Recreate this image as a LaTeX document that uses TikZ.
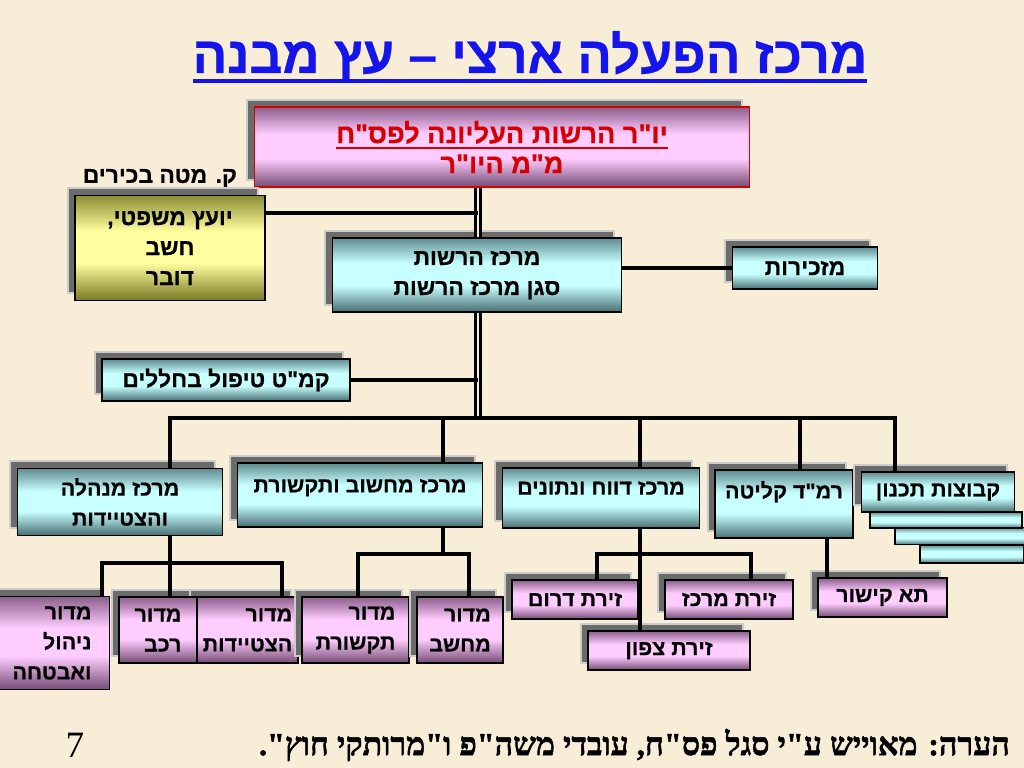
\documentclass[tikz,border=0pt]{standalone}
\usepackage{fontspec}
\usetikzlibrary{shadows}
\TeXXeTstate=1
\newfontfamily\hebsans[Script=Hebrew, BoldFont={Liberation Sans Bold}, BoldFeatures={FakeBold=0.6}]{Liberation Sans}
\newfontfamily\hebserif[Script=Hebrew, BoldFont={Liberation Serif Bold}, BoldFeatures={FakeBold=1.5}]{Liberation Serif}

\definecolor{bgcream}{RGB}{248,238,216}
\definecolor{titleblue}{RGB}{20,20,235}
\definecolor{chairred}{RGB}{215,0,0}
\definecolor{cyantop}{RGB}{95,140,145}
\definecolor{cyanlt}{RGB}{200,255,255}
\definecolor{cyandk}{RGB}{70,110,115}
\definecolor{pinktop}{RGB}{140,95,140}
\definecolor{pinklt}{RGB}{255,205,255}
\definecolor{pinkdk}{RGB}{115,75,115}
\definecolor{yeltop}{RGB}{140,140,50}
\definecolor{yellt}{RGB}{255,255,160}
\definecolor{yeldk}{RGB}{120,120,35}

\pgfdeclareverticalshading{cyanbar}{100bp}{color(0bp)=(cyandk); color(25bp)=(cyandk); color(43bp)=(cyanlt); color(58bp)=(cyanlt); color(75bp)=(cyantop); color(100bp)=(cyantop)}
\pgfdeclareverticalshading{pinkbar}{100bp}{color(0bp)=(pinkdk); color(25bp)=(pinkdk); color(43bp)=(pinklt); color(58bp)=(pinklt); color(75bp)=(pinktop); color(100bp)=(pinktop)}
\pgfdeclareverticalshading{yelbar}{100bp}{color(0bp)=(yeldk); color(25bp)=(yeldk); color(43bp)=(yellt); color(58bp)=(yellt); color(75bp)=(yeltop); color(100bp)=(yeltop)}

\newcommand\heb[1]{\beginR #1\endR}
\newcommand\ulined[3]{\setbox0=\hbox{#3}\leavevmode\rlap{\rule[-#2]{\wd0}{#1}}\box0}
\newcommand\titlefont{\hebsans\bfseries\fontsize{36}{40}\selectfont}
\newcommand\boxfont{\hebsans\bfseries\fontsize{16}{21}\selectfont}
\newcommand\rowfont{\hebsans\bfseries\fontsize{15}{21}\selectfont}
\newcommand\notefont{\hebserif\bfseries\fontsize{22.5}{26}\selectfont}
\newcommand\pagefont{\hebserif\fontsize{26}{30}\selectfont}

\tikzset{
  sz/.style 2 args={minimum width=#1*0.7pt, minimum height=#2*0.7pt},
  shad/.style={general shadow={fill=black!58, draw=black!20, line width=1.5pt, shadow xshift=-5pt, shadow yshift=5pt}},
  box/.style={shad, draw=black, line width=0.9pt, shade, inner sep=2pt, align=center, font=\boxfont},
  cyanbox/.style={box, shading=cyanbar},
  pinkbox/.style={box, shading=pinkbar},
  yelbox/.style={box, shading=yelbar},
  rowbox/.style={cyanbox, font=\rowfont},
  subbox/.style={pinkbox, font=\rowfont},
  stackbox/.style={draw=black, line width=0.9pt, shade, shading=cyanbar},
  lift/.style={text depth=#1},
  conn/.style={line width=2.7pt},
  trunkline/.style={line width=2.2pt, double=bgcream, double distance=0.8pt}
}

\begin{document}
\begin{tikzpicture}[x=0.7pt, y=-0.7pt]
\fill[bgcream] (0,0) rectangle (1024,768);
\useasboundingbox (0,0) rectangle (1024,768);

\node[font=\titlefont, text=titleblue] (title) at (530,57) {\ulined{2.8pt}{7pt}{\heb{מרכז הפעלה ארצי – עץ מבנה}}};

\node[pinkbox, draw=chairred, text=chairred, font=\hebsans\bfseries\fontsize{19}{21}\selectfont, sz={495}{80}] (chair) at (502,147) {\ulined{1.4pt}{4pt}{\heb{יו"ר הרשות העליונה לפס"ח}}\\\heb{מ"מ היו"ר}};
\node[font=\boxfont, anchor=east] (staff) at (242,178) {\heb{ק. מטה בכירים}};
\node[yelbox, sz={190}{105}] (legal) at (170,248) {\heb{יועץ משפטי,}\\\heb{חשב}\\\heb{דובר}};
\node[cyanbox, sz={289}{74}] (hq) at (477,275) {\heb{מרכז הרשות}\\\heb{סגן מרכז הרשות}};
\node[cyanbox, sz={145}{42}] (secr) at (805,268) {\heb{מזכירות}};
\node[cyanbox, sz={248}{42}] (fallen) at (226,380) {\heb{קמ"ט טיפול בחללים}};

\node[rowbox, sz={205}{67}] (admin) at (120,502) {\heb{מרכז מנהלה}\\\heb{והצטיידות}};
\node[rowbox, lift=13pt, sz={245}{64}] (comp) at (360,495) {\heb{מרכז מחשוב ותקשורת}};
\node[rowbox, lift=14pt, sz={197}{60}] (report) at (601,498) {\heb{מרכז דווח ונתונים}};
\node[rowbox, lift=20pt, sz={138}{68}] (intake) at (784,504) {\heb{רמ"ד קליטה}};
\node[stackbox, sz={104}{18}] (plan3) at (972,554) {};
\node[stackbox, sz={130}{17}] (plan2) at (960,536) {};
\node[stackbox, sz={152}{16}] (plan1) at (946,520) {};
\node[rowbox, sz={153}{40}] (plan) at (938,492) {\heb{קבוצות תכנון}};

\node[subbox, align=right, sz={115}{93}] (mng) at (52,643) {\heb{מדור}\\\heb{ניהול}\\\heb{ואבטחה}};
\node[subbox, align=right, sz={101}{66}] (equip) at (247.5,630) {\heb{מדור}\\\heb{הצטיידות}};
\node[subbox, align=right, sz={78}{66}] (veh) at (158,630) {\heb{מדור}\\\heb{רכב}};
\node[subbox, align=right, sz={107}{66}] (comm) at (355.5,630) {\heb{מדור}\\\heb{תקשורת}};
\node[subbox, align=right, sz={86}{66}] (compu) at (460,630) {\heb{מדור}\\\heb{מחשב}};
\node[subbox, sz={126}{39}] (south) at (575,599.5) {\heb{זירת דרום}};
\node[subbox, sz={128}{39}] (middle) at (729,599.5) {\heb{זירת מרכז}};
\node[subbox, sz={129}{39}] (link) at (882.5,597.5) {\heb{תא קישור}};
\node[subbox, sz={162}{39}] (north) at (669,650.5) {\heb{זירת צפון}};

\node[font=\notefont, anchor=east] (note) at (1015,745) {\heb{הערה: מאוייש ע"י סגל פס"ח, עובדי משה"פ ו"מרותקי חוץ".}};
\node[font=\pagefont] (page) at (75,745) {7};

\coordinate (bus) at (478,418);
\coordinate (j1) at (478,213);
\coordinate (b1) at (170,418);
\coordinate (b2) at (443,418);
\coordinate (b3) at (640,418);
\coordinate (b4) at (800,418);
\coordinate (b5) at (895,418);
\coordinate (a1) at (102,563);
\coordinate (a2) at (170,563);
\coordinate (a3) at (282,563);
\coordinate (c1) at (358,554);
\coordinate (c2) at (443,554);
\coordinate (c3) at (469,554);
\coordinate (r1) at (597,554);
\coordinate (r2) at (640,554);
\coordinate (r3) at (751,554);
\coordinate (k1) at (827,560);

\draw[trunkline] (chair.south -| bus) -- (hq.north -| bus);
\draw[trunkline] (hq.south -| bus) -- (bus);
\draw[conn] (legal.east |- j1) -- (j1);
\draw[conn] (fallen.east) -- (fallen.east -| bus);
\draw[conn] (hq.east |- secr.west) -- (secr.west);
\draw[conn] (admin.north -| b1) -- (b1) -- (b5) -- (plan.north -| b5);
\draw[conn] (b2) -- (comp.north -| b2);
\draw[conn] (b3) -- (report.north -| b3);
\draw[conn] (b4) -- (intake.north -| b4);
\draw[conn] (admin.south -| a2) -- (a2) -- (veh.north -| a2);
\draw[conn] (mng.north -| a1) -- (a1) -- (a3) -- (equip.north -| a3);
\draw[conn] (comp.south -| c2) -- (c2);
\draw[conn] (comm.north -| c1) -- (c1) -- (c3) -- (compu.north -| c3);
\draw[conn] (report.south -| r2) -- (north.north -| r2);
\draw[conn] (south.north -| r1) -- (r1) -- (r3) -- (middle.north -| r3);
\draw[conn] (intake.south -| k1) -- (link.north -| k1);
\end{tikzpicture}
\end{document}
